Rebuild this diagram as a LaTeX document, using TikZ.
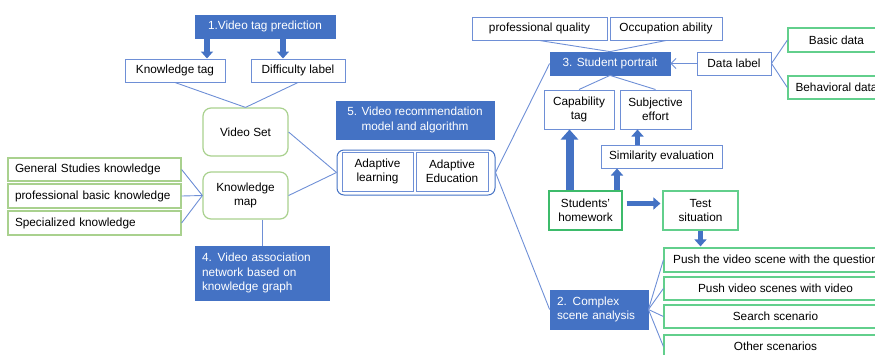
\documentclass[tikz,border=0pt]{standalone}
\usepackage{fontspec}
\setmainfont{Liberation Sans}
\usetikzlibrary{arrows.meta}
\definecolor{mblue}{HTML}{4472C4}
\definecolor{lblue}{HTML}{6E8FD6}
\definecolor{lgreen}{HTML}{A9D18E}
\definecolor{mgreen}{HTML}{3DBB6B}
\definecolor{tgreen}{HTML}{62CF8C}
\begin{document}
\begin{tikzpicture}[x=1pt,y=-1pt,
  font=\fontsize{11.8}{14.5}\selectfont,
  sz/.style 2 args={minimum width=#1pt, minimum height=#2pt},
  bb/.style={draw=mblue, fill=mblue, text=white, inner sep=0pt, line width=0.8pt, align=center},
  wb/.style={draw=lblue, fill=white, inner sep=0pt, line width=1pt, align=center},
  gb/.style={draw=lgreen, fill=white, inner sep=0pt, line width=1.2pt, align=center},
  mg/.style={draw=mgreen, fill=white, inner sep=0pt, line width=1.2pt, align=center},
  tg/.style={draw=tgreen, fill=white, inner sep=0pt, line width=1.2pt, align=center},
  conn/.style={draw=lblue, line width=0.9pt},
  sarrow/.style={draw=mblue, line width=5.5pt, -{Triangle[length=7pt,width=12pt]}},
  barrow/.style={draw=mblue, line width=8pt, -{Triangle[length=10pt,width=17pt]}},
]
\useasboundingbox (0,0) rectangle (875,354);
\clip (0,0) rectangle (875,354);

% left part
\node[bb, sz={140}{23}] (p1) at (265,26.5) {1.Video tag prediction};
\node[wb, sz={100}{23}] (kt) at (175,70.5) {Knowledge tag};
\node[wb, sz={94}{23}] (dl) at (298,70.5) {Difficulty label};
\node[gb, sz={85}{48}, rounded corners=8pt] (vs) at (245.5,132) {Video Set};
\node[gb, sz={85}{47}, rounded corners=8pt] (km) at (245.5,195.5) {Knowledge\\map};
\node[gb, sz={173}{23}, text width=159pt, inner xsep=7pt, align=left] (gs) at (94.5,169.5) {General Studies knowledge};
\node[gb, sz={173}{24}, text width=159pt, inner xsep=7pt, align=left] (pb) at (94.5,196) {professional basic knowledge};
\node[gb, sz={173}{24}, text width=159pt, inner xsep=7pt, align=left] (sk) at (94.5,223) {Specialized knowledge};
\node[bb, sz={134}{54}, text width=120pt, inner xsep=7pt, align=left] (p4) at (262,273) {4. Video association\\network based on\\knowledge graph};

% middle
\node[bb, sz={158}{38}] (p5) at (415,120) {5. Video recommendation\\model and algorithm};
\node[draw=mblue, line width=1pt, rounded corners=7pt, sz={158}{45}, inner sep=0pt] (ct) at (416,172.5) {};
\node[wb, sz={71}{39}] (al) at (377.5,171.5) {Adaptive\\learning};
\node[wb, sz={72}{39}] (ae) at (452,171.5) {Adaptive\\Education};

% right top
\node[wb, sz={135}{23}] (pq) at (539.5,28.5) {professional quality};
\node[wb, sz={112}{23}] (oa) at (666,28.5) {Occupation ability};
\node[bb, sz={120}{23}] (p3) at (610,63.5) {3. Student portrait};
\node[wb, sz={74}{23}] (dla) at (734,63.5) {Data label};
\node[tg, sz={97}{24}] (bd) at (836.5,40) {Basic data};
\node[tg, sz={97}{23}] (bhd) at (836.5,87.5) {Behavioral data};
\node[wb, sz={70}{39}] (cap) at (579,109.5) {Capability\\tag};
\node[wb, sz={71}{39}] (se) at (655.5,109.5) {Subjective\\effort};
\node[wb, sz={121}{23}] (sim) at (661.5,156.5) {Similarity evaluation};
\node[mg, sz={73}{39}] (hw) at (585.5,210.5) {Students'\\homework};
\node[tg, sz={75}{39}] (ts) at (700.5,210.5) {Test\\situation};

% right bottom
\node[bb, sz={98}{39}, text width=84pt, inner xsep=7pt, align=left] (p2) at (599,309.5) {2. Complex\\scene analysis};
\node[tg, sz={223}{24}] (s1) at (775.5,260) {Push the video scene with the question};
\node[tg, sz={223}{23}] (s2) at (775.5,288.5) {Push video scenes with video};
\node[tg, sz={223}{23}] (s3) at (775.5,316.5) {Search scenario};
\node[tg, sz={223}{23}] (s4) at (775.5,346.5) {Other scenarios};

% connectors
\draw[sarrow] ([xshift=-58pt]p1.south) -- ([xshift=-58pt]p1.south |- kt.north);
\draw[sarrow] ([xshift=18pt]p1.south) -- ([xshift=18pt]p1.south |- dl.north);
\draw[conn] (kt.south) -- (vs.north);
\draw[conn] (dl.south) -- (vs.north);
\draw[conn] (gs.east) -- (km.west);
\draw[conn] (pb.east) -- (km.west);
\draw[conn] (sk.east) -- (km.west);
\draw[conn] (p4.north |- km.south) -- (p4.north);
\draw[conn] (vs.east) -- (ct.west);
\draw[conn] (km.east) -- (ct.west);
\draw[conn] (ct.east) -- (p3.west);
\draw[conn] (ct.east) -- (p2.west);
\draw[conn] (pq.south) -- (p3.north);
\draw[conn] (oa.south) -- (p3.north);
\draw[conn, -{Straight Barb[length=5pt,width=10pt]}] (dla.west) -- (p3.east);
\draw[conn] (dla.east) -- (bd.west);
\draw[conn] (dla.east) -- (bhd.west);
\draw[conn] (p3.south) -- (cap.north);
\draw[conn] (p3.south) -- (se.north);
\draw[barrow] ([xshift=-16pt]hw.north) -- ([xshift=-16pt]hw.north |- cap.south);
\draw[sarrow] ([xshift=31.5pt]hw.north) -- ([xshift=31.5pt]hw.north |- sim.south);
\draw[sarrow] ([xshift=-24pt]sim.north) -- ([xshift=-24pt]sim.north |- se.south);
\draw[sarrow, shorten <=4pt, shorten >=2pt] ([yshift=7pt]hw.east) -- ([yshift=7pt]hw.east -| ts.west);
\draw[sarrow, shorten >=1pt] (ts.south) -- (ts.south |- s1.north);
\draw[conn] (p2.east) -- (s1.west);
\draw[conn] (p2.east) -- (s2.west);
\draw[conn] (p2.east) -- (s3.west);
\draw[conn] (p2.east) -- (s4.west);
\end{tikzpicture}
\end{document}
